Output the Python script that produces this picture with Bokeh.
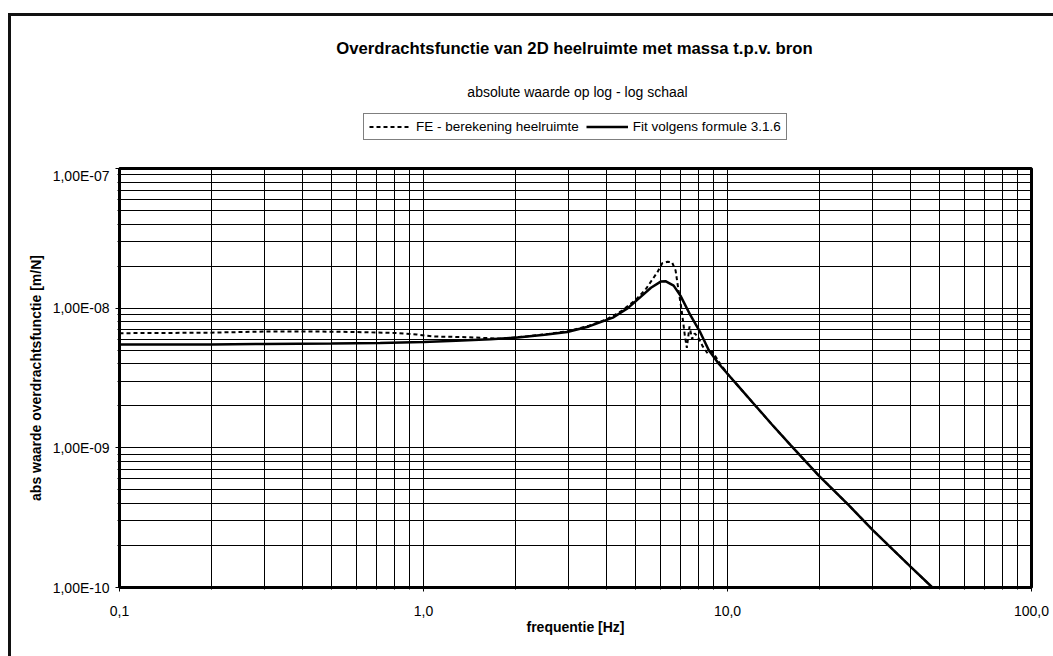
from bokeh.plotting import figure
from bokeh.layouts import column
from bokeh.models import FixedTicker, Legend, LegendItem, Label, InlineStyleSheet
from bokeh.embed import file_html
from bokeh.resources import INLINE

# ---- data ----
freq_fe = [0.1, 0.15, 0.2, 0.3, 0.45, 0.6, 0.8, 0.95, 1.08, 1.39, 1.79, 2.2, 2.6, 3.0,
           3.5, 4.0, 4.5, 5.0, 5.4, 5.88, 6.1, 6.35, 6.57, 6.75, 6.9, 7.05, 7.15, 7.25,
           7.35, 7.5, 7.65, 7.8, 8.0, 8.3, 8.6, 8.9, 9.2, 9.5, 10.0, 10.5, 12.36, 14.0,
           16.1, 20.0, 25.0, 30.0, 35.0, 40.0, 47.2, 50.0]
abs_fe = [6.62e-9, 6.65e-9, 6.68e-9, 6.8e-9, 6.8e-9, 6.75e-9, 6.65e-9, 6.48e-9, 6.27e-9,
          6.2e-9, 6.05e-9, 6.3e-9, 6.55e-9, 6.85e-9, 7.5e-9, 8.3e-9, 9.6e-9, 1.15e-8,
          1.38e-8, 1.81e-8, 2.1e-8, 2.15e-8, 2.13e-8, 1.86e-8, 1.34e-8, 1.0e-8, 7.9e-9,
          6.2e-9, 5.2e-9, 7.4e-9, 6.0e-9, 6.6e-9, 6.2e-9, 5.3e-9, 4.75e-9, 4.9e-9, 4.4e-9,
          3.95e-9, 3.39e-9, 3.0e-9, 2.0e-9, 1.47e-9, 1.05e-9, 6.3e-10, 3.9e-10, 2.59e-10,
          1.87e-10, 1.41e-10, 1.0e-10, 8.9e-11]

freq_fit = [0.1, 0.2, 0.3, 0.5, 0.72, 1.0, 1.28, 1.66, 2.0, 2.5, 2.97, 3.5, 4.22, 4.7,
            5.17, 5.6, 6.03, 6.25, 6.65, 7.0, 7.55, 8.14, 8.68, 9.36, 10.0, 10.5, 12.36,
            14.0, 16.1, 20.0, 25.0, 30.0, 35.0, 40.0, 47.2, 50.0]
abs_fit = [5.49e-9, 5.5e-9, 5.55e-9, 5.58e-9, 5.62e-9, 5.72e-9, 5.85e-9, 6.0e-9, 6.15e-9,
           6.45e-9, 6.75e-9, 7.4e-9, 8.6e-9, 1.0e-8, 1.2e-8, 1.4e-8, 1.55e-8, 1.56e-8,
           1.45e-8, 1.23e-8, 8.9e-9, 6.7e-9, 5.0e-9, 4.0e-9, 3.39e-9, 3.0e-9, 2.0e-9,
           1.47e-9, 1.05e-9, 6.3e-10, 3.9e-10, 2.59e-10, 1.87e-10, 1.41e-10, 1.0e-10, 8.9e-11]

x_major = [0.1, 1.0, 10.0, 100.0]
x_labels = ["0,1", "1,0", "10,0", "100,0"]
y_major = [1e-10, 1e-9, 1e-8, 1e-7]
y_labels = ["1,00E-10", "1,00E-09", "1,00E-08", "1,00E-07"]

title_text = "Overdrachtsfunctie van 2D heelruimte met massa t.p.v. bron"
subtitle_text = "absolute waarde op log - log schaal"
x_title = "frequentie [Hz]"
y_title = "abs waarde overdrachtsfunctie [m/N]"
series_names = ["FE - berekening heelruimte", "Fit volgens formule 3.1.6"]

FONT = "Liberation Sans"
FE_STYLE = dict(line_color="black", line_width=2, line_dash="4 3")
FIT_STYLE = dict(line_color="black", line_width=2.5)

# frame of the header is aligned with the chart frame (left edge at ~120 px)
FRAME_LEFT = 120

# ---------------- header (title, subtitle, legend) ----------------
HEAD_H = 167
head = figure(width=1053, height=HEAD_H, x_range=(0, 1), y_range=(0, 1),
              output_backend="svg", toolbar_location=None, title=None,
              min_border=0, x_axis_location=None, y_axis_location=None)
head.outline_line_color = None
head.grid.visible = False
head.background_fill_color = "white"
head.border_fill_color = "white"

# legend-only renderers (their points lie outside the visible range)
h_fe = head.line(x=[-5, -4], y=[-5, -4], **FE_STYLE)
h_fit = head.line(x=[-5, -4], y=[-5, -4], **FIT_STYLE)

head.add_layout(Label(x=575 - FRAME_LEFT, y=HEAD_H - 48, x_units="screen", y_units="screen",
                      text=title_text, text_align="center", text_baseline="middle",
                      text_font=FONT, text_font_size="16.7px", text_font_style="bold",
                      text_color="black"))
head.add_layout(Label(x=578 - FRAME_LEFT, y=HEAD_H - 91, x_units="screen", y_units="screen",
                      text=subtitle_text, text_align="center", text_baseline="middle",
                      text_font=FONT, text_font_size="14px", text_color="black"))

legend = Legend(items=[LegendItem(label=series_names[0], renderers=[h_fe]),
                       LegendItem(label=series_names[1], renderers=[h_fit])],
                orientation="horizontal", location=(364 - FRAME_LEFT, HEAD_H - 140),
                border_line_color="black", border_line_width=1,
                background_fill_color="white", background_fill_alpha=1,
                padding=5, spacing=7, margin=0, glyph_width=42, glyph_height=15,
                label_standoff=5, label_text_font=FONT, label_text_font_size="13.5px",
                label_text_color="black", label_height=15)
head.add_layout(legend, "center")

# ---------------- main chart ----------------
p = figure(width=1053, height=656 - HEAD_H, x_axis_type="log", y_axis_type="log",
           x_range=(0.1, 100), y_range=(1e-10, 1e-7), title=None,
           output_backend="svg", toolbar_location=None,
           min_border_left=119, min_border_right=22, min_border_top=1,
           min_border_bottom=69)
p.background_fill_color = "white"
p.border_fill_color = "white"
p.outline_line_color = "black"
p.outline_line_width = 3

x_minor = [m * d for d in x_major[:-1] for m in range(2, 10)]
y_minor = [m * d for d in y_major[:-1] for m in range(2, 10)]
p.xaxis.ticker = FixedTicker(ticks=x_major, minor_ticks=x_minor)
p.yaxis.ticker = FixedTicker(ticks=y_major, minor_ticks=y_minor)
p.xaxis.major_label_overrides = dict(zip(x_major, x_labels))
p.yaxis.major_label_overrides = dict(zip(y_major, y_labels))

for ax in (p.xaxis, p.yaxis):
    ax.axis_line_color = "black"
    ax.axis_line_width = 2
    ax.major_tick_line_color = "black"
    ax.major_tick_out = 4
    ax.major_tick_in = 0
    ax.minor_tick_line_color = "black"
    ax.minor_tick_out = 2
    ax.minor_tick_in = 0
    ax.major_label_text_font = FONT
    ax.major_label_text_font_size = "14px"
    ax.major_label_text_color = "black"
    ax.axis_label_text_font = FONT
    ax.axis_label_text_font_size = "14px"
    ax.axis_label_text_font_style = "bold"
    ax.axis_label_text_color = "black"

p.xaxis.axis_label = x_title
p.yaxis.axis_label = y_title
p.xaxis.major_label_standoff = 14
p.yaxis.major_label_standoff = 6
p.xaxis.axis_label_standoff = 0
p.yaxis.axis_label_standoff = 6

for g in (p.xgrid, p.ygrid):
    g.grid_line_color = "black"
    g.grid_line_width = 1
    g.minor_grid_line_color = "black"
    g.minor_grid_line_width = 1
p.xgrid.ticker = p.xaxis.ticker
p.ygrid.ticker = p.yaxis.ticker

p.line(freq_fe, abs_fe, **FE_STYLE)
p.line(freq_fit, abs_fit, **FIT_STYLE)

frame_css = InlineStyleSheet(css="""
:host { position: relative; }
:host::after {
  content: "";
  position: absolute;
  left: 8px; top: 13px; right: 0px; bottom: 0px;
  border-left: 3px solid #111;
  border-top: 3px solid #111;
  pointer-events: none;
  z-index: 10;
}
""")

layout = column(head, p, spacing=0, stylesheets=[frame_css])

open("out.html", "w").write(file_html(layout, INLINE))
